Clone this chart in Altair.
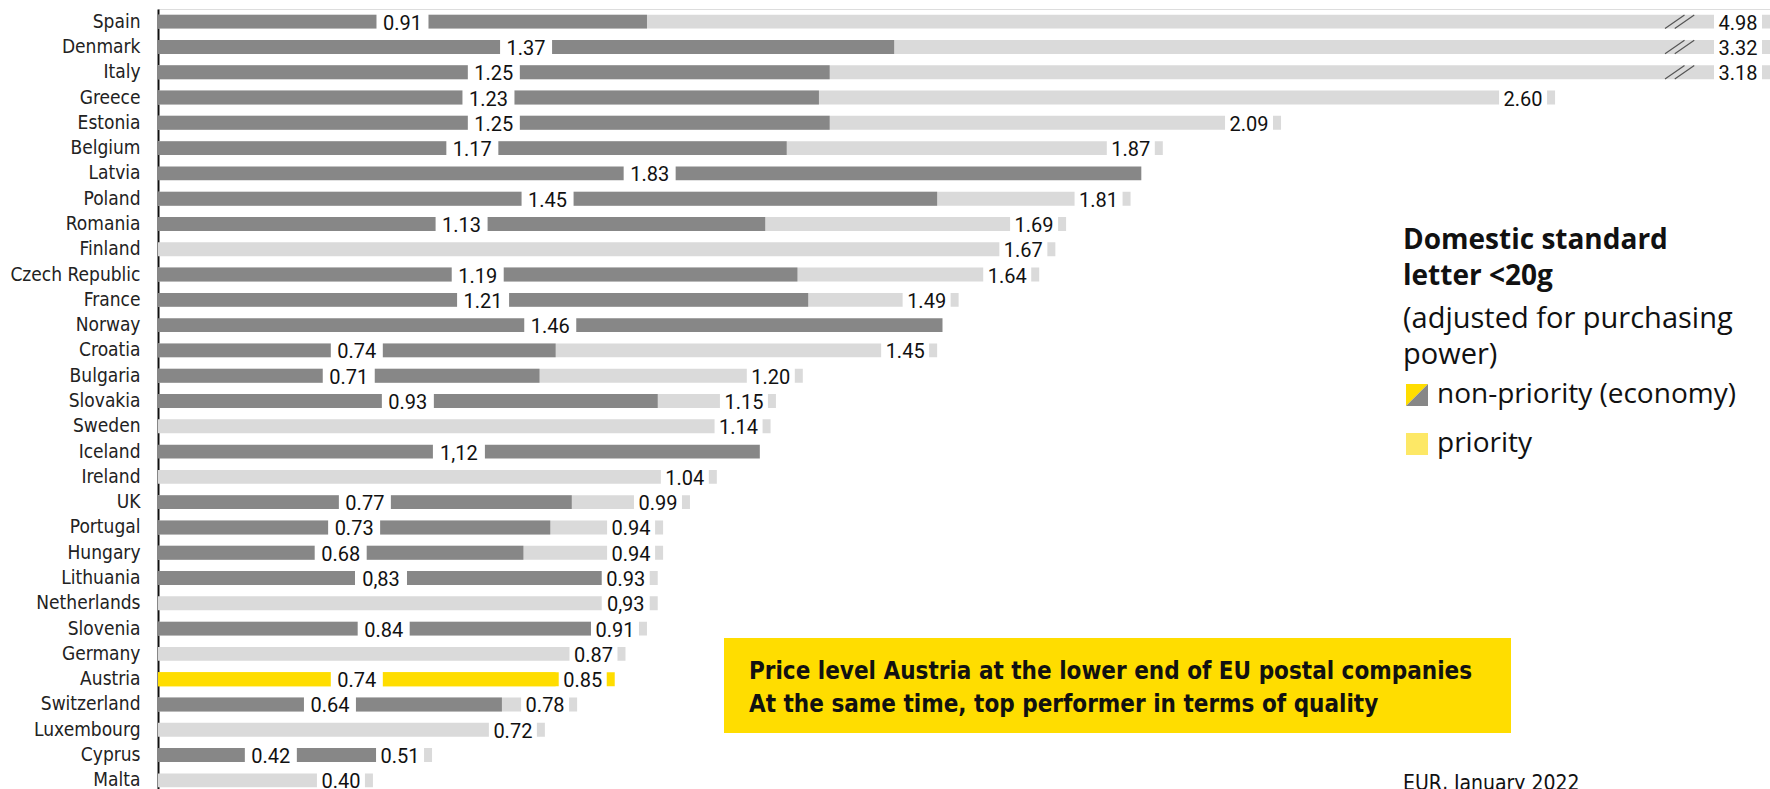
import altair as alt
import pandas as pd

countries = ["Spain", "Denmark", "Italy", "Greece", "Estonia", "Belgium", "Latvia", "Poland",
             "Romania", "Finland", "Czech Republic", "France", "Norway", "Croatia", "Bulgaria",
             "Slovakia", "Sweden", "Iceland", "Ireland", "UK", "Portugal", "Hungary", "Lithuania",
             "Netherlands", "Slovenia", "Germany", "Austria", "Switzerland", "Luxembourg",
             "Cyprus", "Malta"]

non_priority = [0.91, 1.37, 1.25, 1.23, 1.25, 1.17, 1.83, 1.45, 1.13, None, 1.19, 1.21, 1.46,
                0.74, 0.71, 0.93, None, 1.12, None, 0.77, 0.73, 0.68, 0.83, None, 0.84, None,
                0.74, 0.64, None, 0.42, None]
non_priority_labels = ["0.91", "1.37", "1.25", "1.23", "1.25", "1.17", "1.83", "1.45", "1.13", "",
                       "1.19", "1.21", "1.46", "0.74", "0.71", "0.93", "", "1,12", "", "0.77",
                       "0.73", "0.68", "0,83", "", "0.84", "", "0.74", "0.64", "", "0.42", ""]

priority = [4.98, 3.32, 3.18, 2.60, 2.09, 1.87, None, 1.81, 1.69, 1.67, 1.64, 1.49, None, 1.45,
            1.20, 1.15, 1.14, None, 1.04, 0.99, 0.94, 0.94, 0.93, 0.93, 0.91, 0.87, 0.85, 0.78,
            0.72, 0.51, 0.40]
priority_labels = ["4.98", "3.32", "3.18", "2.60", "2.09", "1.87", "", "1.81", "1.69", "1.67",
                   "1.64", "1.49", "", "1.45", "1.20", "1.15", "1.14", "", "1.04", "0.99", "0.94",
                   "0.94", "0.93", "0,93", "0.91", "0.87", "0.85", "0.78", "0.72", "0.51", "0.40"]

highlight = "Austria"
x_max = 3.0  # axis cut; longer bars are drawn broken

df = pd.DataFrame({
    "country": countries,
    "np": non_priority,
    "np_lab": non_priority_labels,
    "p": priority,
    "p_lab": priority_labels,
})
df["np_mid"] = df["np"] / 2
df["p_disp"] = df["p"].clip(upper=x_max)
df["broken"] = df["p"] > x_max
df["dark_col"] = ["#FFDD00" if c == highlight else "#878787" for c in countries]
df["light_col"] = ["#FFDD00" if c == highlight else "#DADADA" for c in countries]

LABEL_FONT = "Liberation Sans Narrow, DejaVu Sans Condensed, Roboto Condensed, Roboto"
VAL_FONT = "Roboto"
TEXT_FONT = "Open Sans"

base = alt.Chart(df)
yenc = alt.Y("country:N", sort=countries,
             scale=alt.Scale(paddingInner=0.45, paddingOuter=0.225),
             axis=alt.Axis(title=None, ticks=False, domain=True, domainColor="#111111",
                           domainWidth=2, labelFontSize=19, labelColor="#222222",
                           labelPadding=18, labelFont=LABEL_FONT, labelLimit=200))
xscale = alt.Scale(domain=[0, x_max], nice=False, zero=True)

light = base.transform_filter("isValid(datum.p)").mark_bar().encode(
    x=alt.X("p_disp:Q", scale=xscale, axis=None), y=yenc,
    color=alt.Color("light_col:N", scale=None))
dark = base.transform_filter("isValid(datum.np)").mark_bar().encode(
    x=alt.X("np:Q", scale=xscale, axis=None), y=yenc,
    color=alt.Color("dark_col:N", scale=None))

mid_box = base.transform_filter("isValid(datum.np)").mark_tick(
    color="white", thickness=52, size=20, opacity=1).encode(
    x=alt.X("np_mid:Q", scale=xscale, axis=None), y=yenc)
end_box = base.transform_filter("isValid(datum.p)").mark_tick(
    color="white", thickness=48, size=20, opacity=1, xOffset=-32).encode(
    x=alt.X("p_disp:Q", scale=xscale, axis=None), y=yenc)

mid_text = base.transform_filter("isValid(datum.np)").mark_text(
    align="center", baseline="middle", fontSize=20, font=VAL_FONT, color="#111111", dy=2).encode(
    x=alt.X("np_mid:Q", scale=xscale, axis=None), y=yenc, text="np_lab:N")
end_text = base.transform_filter("isValid(datum.p)").mark_text(
    align="center", baseline="middle", fontSize=20, font=VAL_FONT, color="#111111",
    dx=-32, dy=2).encode(
    x=alt.X("p_disp:Q", scale=xscale, axis=None), y=yenc, text="p_lab:N")

breaks = base.transform_filter("datum.broken").mark_point(
    shape="M -1 0.45 L 0.3 -0.45 M -0.35 0.45 L 0.95 -0.45",
    filled=False, stroke="#555555", strokeWidth=1.2, size=900, opacity=1).encode(
    x=alt.value(1522), y=yenc)

# Legend block (right side)
one = pd.DataFrame({"k": [0]})
def txt(s, x, y, size, weight="normal", font=TEXT_FONT):
    return alt.Chart(one).mark_text(text=s, align="left", baseline="middle", fontSize=size,
                                    fontWeight=weight, font=font, color="#111111").encode(
        x=alt.value(x), y=alt.value(y))

leg_title1 = txt("Domestic standard", 1245, 232, 28, "bold")
leg_title2 = txt("letter <20g", 1245, 268, 28, "bold")
leg_sub1 = txt("(adjusted for purchasing", 1245, 310, 29)
leg_sub2 = txt("power)", 1245, 346, 29)
sw1a = alt.Chart(one).mark_point(shape="M -1 -1 L 1 -1 L -1 1 Z", filled=True, color="#FFDD00",
                                 size=484, opacity=1).encode(x=alt.value(1259), y=alt.value(386))
sw1b = alt.Chart(one).mark_point(shape="M 1 -1 L 1 1 L -1 1 Z", filled=True, color="#878787",
                                 size=484, opacity=1).encode(x=alt.value(1259), y=alt.value(386))
sw2 = alt.Chart(one).mark_point(shape="square", filled=True, color="#FDE866",
                                size=484, opacity=1).encode(x=alt.value(1259), y=alt.value(435))
leg_np = txt("non-priority (economy)", 1279, 386, 28)
leg_p = txt("priority", 1279, 435, 28)

# Annotation box
box = alt.Chart(one).mark_rect(color="#FFDD00").encode(
    x=alt.value(566), x2=alt.value(1353), y=alt.value(629), y2=alt.value(724))
ann1 = txt("Price level Austria at the lower end of EU postal companies", 591, 663, 24, "bold",
           LABEL_FONT)
ann2 = txt("At the same time, top performer in terms of quality", 591, 696, 24, "bold",
           LABEL_FONT)
source = txt("EUR, January 2022", 1245, 775, 21, "normal", LABEL_FONT)

chart = alt.layer(
    light, dark, mid_box, end_box, mid_text, end_text, breaks,
    leg_title1, leg_title2, leg_sub1, leg_sub2, sw1a, sw1b, sw2, leg_np, leg_p,
    box, ann1, ann2, source
).properties(
    width=1612, height=784,
    padding={"left": 158, "top": 9, "right": 0, "bottom": 0},
    autosize=alt.AutoSizeParams(type="none"),
).configure_view(stroke=None).configure(background="white")

chart.save("out.html", embed_options={"renderer": "svg", "actions": False})
